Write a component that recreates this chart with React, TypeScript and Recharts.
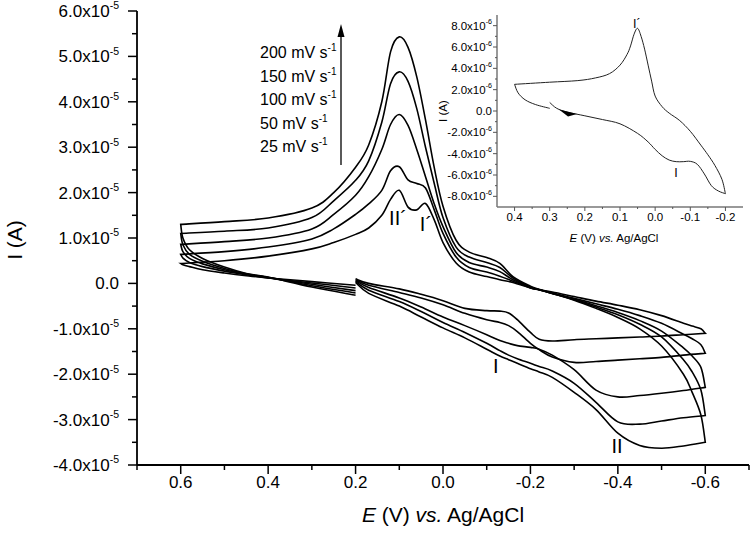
import React from "react";
import { LineChart, Line, XAxis, YAxis, ReferenceDot } from "recharts";

const FONT = "'Liberation Sans', Arial, Helvetica, sans-serif";

// potential (V vs. Ag/AgCl): 0.2 -> -0.6 (cathodic), -0.6 -> 0.6 (anodic), 0.6 -> 0.2
const potential = [
  0.2, 0.17, 0.1, 0.05, 0, -0.05, -0.1, -0.13, -0.15, -0.17,
  -0.2, -0.22, -0.25, -0.3, -0.35, -0.4, -0.45, -0.5, -0.55, -0.6,
  -0.6, -0.59, -0.57, -0.55, -0.5, -0.45, -0.4, -0.35, -0.3, -0.25,
  -0.22, -0.2, -0.16, -0.13, -0.1, -0.06, -0.03, 0, 0.02, 0.04,
  0.06, 0.08, 0.1, 0.12, 0.14, 0.17, 0.2, 0.25, 0.3, 0.4, 0.5, 0.6,
  0.6, 0.595, 0.58, 0.55, 0.5, 0.45, 0.4, 0.3, 0.2,
];

// currents, x10^-5 A
const i25 = [
  0.1, 0.0, -0.12, -0.24, -0.38, -0.55, -0.6, -0.61, -0.65, -0.8,
  -1.08, -1.23, -1.27, -1.24, -1.22, -1.2, -1.18, -1.16, -1.13, -1.1,
  -1.1, -1.0, -0.94, -0.88, -0.71, -0.58, -0.48, -0.39, -0.29, -0.19,
  -0.14, -0.1, 0.02, 0.08, 0.15, 0.25, 0.45, 0.9, 1.4, 1.76,
  1.62, 1.68, 2.05, 1.85, 1.5, 1.22, 1.08, 0.9, 0.76, 0.6, 0.5, 0.44,
  0.44, 0.41, 0.37, 0.3, 0.23, 0.17, 0.12, 0.04, -0.04,
];
const i50 = [
  0.08, -0.04, -0.2, -0.32, -0.47, -0.66, -0.8, -0.86, -0.93, -1.06,
  -1.32, -1.46, -1.62, -1.74, -1.72, -1.69, -1.66, -1.63, -1.58, -1.54,
  -1.54, -1.35, -1.22, -1.12, -0.88, -0.71, -0.57, -0.45, -0.33, -0.21,
  -0.14, -0.1, 0.05, 0.16, 0.25, 0.35, 0.58, 1.1, 1.62, 2.1,
  2.2, 2.28, 2.57, 2.48, 2.05, 1.75, 1.52, 1.2, 0.98, 0.8, 0.7, 0.64,
  0.64, 0.56, 0.46, 0.37, 0.27, 0.19, 0.12, 0.01, -0.1,
];
const i100 = [
  0.06, -0.09, -0.32, -0.52, -0.74, -0.93, -1.13, -1.26, -1.32, -1.37,
  -1.41, -1.45, -1.58, -1.9, -2.35, -2.5, -2.47, -2.42, -2.36, -2.29,
  -2.29, -1.85, -1.6, -1.42, -1.05, -0.82, -0.64, -0.49, -0.35, -0.22,
  -0.14, -0.09, 0.08, 0.26, 0.36, 0.46, 0.68, 1.25, 1.75, 2.35,
  2.95, 3.48, 3.72, 3.5, 2.95, 2.35, 1.94, 1.52, 1.2, 1.0, 0.92, 0.86,
  0.86, 0.7, 0.55, 0.43, 0.3, 0.2, 0.13, -0.02, -0.16,
];
const i150 = [
  0.04, -0.15, -0.4, -0.62, -0.86, -1.08, -1.32, -1.48, -1.58, -1.66,
  -1.76, -1.83, -1.93, -2.2, -2.62, -3.05, -3.1, -3.03, -2.96, -2.91,
  -2.91, -2.35, -1.95, -1.68, -1.18, -0.9, -0.69, -0.52, -0.36, -0.22,
  -0.14, -0.08, 0.12, 0.35, 0.46, 0.58, 0.8, 1.45, 2.2, 3.0,
  3.85, 4.45, 4.66, 4.4, 3.55, 2.7, 2.27, 1.82, 1.45, 1.22, 1.15, 1.1,
  1.1, 0.85, 0.64, 0.49, 0.33, 0.21, 0.13, -0.05, -0.21,
];
const i200 = [
  0.02, -0.22, -0.5, -0.74, -0.98, -1.2, -1.45, -1.6, -1.68, -1.76,
  -1.88, -1.95, -2.07, -2.4, -2.78, -3.3, -3.57, -3.63, -3.58, -3.5,
  -3.5, -2.9, -2.4, -2.0, -1.38, -1.0, -0.75, -0.55, -0.37, -0.22,
  -0.13, -0.06, 0.15, 0.44, 0.57, 0.69, 0.95, 1.7, 2.55, 3.6,
  4.55, 5.2, 5.43, 5.1, 4.0, 3.05, 2.56, 2.0, 1.66, 1.44, 1.36, 1.3,
  1.3, 1.0, 0.74, 0.55, 0.36, 0.22, 0.14, -0.08, -0.26,
];

const scanRates = ["200", "150", "100", "50", "25"];

// inset: potential (V) and current (x10^-6 A)
const insetPotential = [
  0.3, 0.28, 0.25, 0.2, 0.15, 0.1, 0.05, 0.02, 0, -0.02,
  -0.04, -0.06, -0.08, -0.1, -0.12, -0.14, -0.16, -0.18, -0.2,
  -0.2, -0.19, -0.17, -0.15, -0.13, -0.1, -0.07, -0.04, -0.02, 0,
  0.01, 0.02, 0.03, 0.04, 0.05, 0.06, 0.07, 0.08, 0.1, 0.13,
  0.17, 0.22, 0.3, 0.4,
  0.4, 0.39, 0.37, 0.34, 0.3,
];
const insetCurrent = [
  0.8, 0.25, -0.1, -0.45, -0.8, -1.2, -2.1, -2.9, -3.6, -4.2,
  -4.6, -4.75, -4.75, -4.72, -5.0, -5.9, -7.0, -7.5, -7.75,
  -7.75, -6.4, -5.1, -4.1, -3.2, -1.9, -0.9, -0.2, 0.4, 1.4,
  2.8, 4.3, 5.8, 7.0, 7.75, 7.2, 6.1, 5.3, 4.3, 3.5,
  3.1, 2.85, 2.7, 2.5,
  2.5, 1.7, 1.05, 0.6, 0.25,
];

const xTicks = [0.7, 0.6, 0.5, 0.4, 0.3, 0.2, 0.1, 0, -0.1, -0.2, -0.3, -0.4, -0.5, -0.6, -0.7];
const xMajor = [0.6, 0.4, 0.2, 0, -0.2, -0.4, -0.6];
const yTicks = [-4, -3.5, -3, -2.5, -2, -1.5, -1, -0.5, 0, 0.5, 1, 1.5, 2, 2.5, 3, 3.5, 4, 4.5, 5, 5.5, 6];
const insetXTicks = [0.4, 0.35, 0.3, 0.25, 0.2, 0.15, 0.1, 0.05, 0, -0.05, -0.1, -0.15, -0.2];
const insetXMajor = [0.4, 0.3, 0.2, 0.1, 0, -0.1, -0.2];
const insetYTicks = [-8, -7, -6, -5, -4, -3, -2, -1, 0, 1, 2, 3, 4, 5, 6, 7, 8];

const mainData = potential.map((E, k) => ({
  E, i25: i25[k], i50: i50[k], i100: i100[k], i150: i150[k], i200: i200[k],
}));
const insetData = insetPotential.map((E, k) => ({ E, I: insetCurrent[k] }));

// Catmull-Rom through the points; a repeated point gives a sharp corner
function smoothCurve(context: any) {
  let pts: number[][] = [];
  return {
    areaStart() {},
    areaEnd() {},
    lineStart() { pts = []; },
    point(x: number, y: number) { pts.push([+x, +y]); },
    lineEnd() {
      if (!pts.length) return;
      context.moveTo(pts[0][0], pts[0][1]);
      for (let k = 0; k < pts.length - 1; k++) {
        const p1 = pts[k];
        const p2 = pts[k + 1];
        if (p1[0] === p2[0] && p1[1] === p2[1]) continue;
        const p0 = k > 0 ? pts[k - 1] : p1;
        const p3 = k + 2 < pts.length ? pts[k + 2] : p2;
        context.bezierCurveTo(
          p1[0] + (p2[0] - p0[0]) / 6, p1[1] + (p2[1] - p0[1]) / 6,
          p2[0] - (p3[0] - p1[0]) / 6, p2[1] - (p3[1] - p1[1]) / 6,
          p2[0], p2[1],
        );
      }
    },
  };
}

const sciLabel = (v: number, exp: string, size: number) =>
  v === 0 ? "0.0" : (
    <>
      {`${v.toFixed(1)}x10`}
      <tspan dy={-size * 0.45} fontSize={size * 0.62}>{exp}</tspan>
    </>
  );

const MainXTick = (props: any) => {
  const { x, y, payload } = props;
  const v = payload.value;
  const major = xMajor.includes(v);
  return (
    <g>
      <line x1={x} x2={x} y1={y} y2={y + (major ? 9 : 5)} stroke="#000" strokeWidth={1.5} />
      {major && (
        <text x={x} y={y + 23} textAnchor="middle" fontSize={17} fontFamily={FONT} fill="#000">
          {v === 0 ? "0.0" : v.toFixed(1)}
        </text>
      )}
    </g>
  );
};

const MainYTick = (props: any) => {
  const { x, y, payload } = props;
  const v = payload.value;
  const major = Number.isInteger(v);
  return (
    <g>
      <line x1={x} x2={x - (major ? 9 : 5)} y1={y} y2={y} stroke="#000" strokeWidth={1.5} />
      {major && (
        <text x={x - 18} y={y + 6} textAnchor="end" fontSize={17} fontFamily={FONT} fill="#000">
          {sciLabel(v, "-5", 17)}
        </text>
      )}
    </g>
  );
};

const InsetXTick = (props: any) => {
  const { x, y, payload } = props;
  const v = payload.value;
  const major = insetXMajor.includes(v);
  return (
    <g>
      <line x1={x} x2={x} y1={y} y2={y + (major ? 4 : 2)} stroke="#555" strokeWidth={1} />
      {major && (
        <text x={x} y={y + 14} textAnchor="middle" fontSize={11.5} fontFamily={FONT} fill="#000">
          {v === 0 ? "0.0" : v.toFixed(1)}
        </text>
      )}
    </g>
  );
};

const InsetYTick = (props: any) => {
  const { x, y, payload } = props;
  const v = payload.value;
  const major = v % 2 === 0;
  return (
    <g>
      <line x1={x} x2={x - (major ? 4 : 2)} y1={y} y2={y} stroke="#555" strokeWidth={1} />
      {major && (
        <text x={x - 5} y={y + 4} textAnchor="end" fontSize={11.5} fontFamily={FONT} fill="#000">
          {sciLabel(v, "-6", 11.5)}
        </text>
      )}
    </g>
  );
};

const peakLabel = (text: string, size: number) => ({
  value: text, position: "center" as const, fontSize: size, fill: "#000", fontFamily: FONT,
});

export default function App() {
  const frame = { stroke: "#000", strokeWidth: 1.8 };
  const insetFrame = { stroke: "#777", strokeWidth: 1.5 };
  return (
    <div style={{ position: "absolute", left: 0, top: 0, width: 752, height: 536, background: "#fff" }}>
      <LineChart width={752} height={536} data={mainData} margin={{ top: 11, right: 3, bottom: 0, left: 0 }}>
        <XAxis dataKey="E" type="number" domain={[-0.7, 0.7]} reversed allowDataOverflow
          ticks={xTicks} interval={0} tickSize={0} tickMargin={0} tickLine={false}
          axisLine={frame} height={71} tick={MainXTick} />
        <XAxis xAxisId="top" orientation="top" type="number" domain={[-0.7, 0.7]} reversed
          height={0} tick={false} tickLine={false} axisLine={frame} />
        <YAxis type="number" domain={[-4, 6]} allowDataOverflow ticks={yTicks} interval={0}
          tickSize={0} tickMargin={0} tickLine={false} axisLine={frame} width={137} tick={MainYTick} />
        <YAxis yAxisId="right" orientation="right" type="number" domain={[-4, 6]}
          width={0} tick={false} tickLine={false} axisLine={frame} />
        {scanRates.map((r) => (
          <Line key={r} dataKey={`i${r}`} type={smoothCurve as any} stroke="#000" strokeWidth={1.6}
            dot={false} activeDot={false} isAnimationActive={false} />
        ))}
        <ReferenceDot x={0.103} y={1.45} r={0} fill="none" stroke="none" label={peakLabel("II\u00B4", 20)} />
        <ReferenceDot x={0.039} y={1.3} r={0} fill="none" stroke="none" label={peakLabel("I\u00B4", 20)} />
        <ReferenceDot x={-0.121} y={-1.81} r={0} fill="none" stroke="none" label={peakLabel("I", 20)} />
        <ReferenceDot x={-0.398} y={-3.59} r={0} fill="none" stroke="none" label={peakLabel("II", 20)} />
      </LineChart>

      <div style={{ position: "absolute", left: 420, top: 0 }}>
        <LineChart width={332} height={250} data={insetData} margin={{ top: 15, right: 9, bottom: 0, left: 0 }}>
          <XAxis dataKey="E" type="number" domain={[-0.25, 0.45]} reversed allowDataOverflow
            ticks={insetXTicks} interval={0} tickSize={0} tickMargin={0} tickLine={false}
            axisLine={insetFrame} height={43} tick={InsetXTick} />
          <XAxis xAxisId="top" orientation="top" type="number" domain={[-0.25, 0.45]} reversed
            height={0} tick={false} tickLine={false} axisLine={insetFrame} />
          <YAxis type="number" domain={[-9, 9]} allowDataOverflow ticks={insetYTicks} interval={0}
            tickSize={0} tickMargin={0} tickLine={false} axisLine={insetFrame} width={77} tick={InsetYTick} />
          <YAxis yAxisId="right" orientation="right" type="number" domain={[-9, 9]}
            width={0} tick={false} tickLine={false} axisLine={insetFrame} />
          <Line dataKey="I" type={smoothCurve as any} stroke="#222" strokeWidth={1}
            dot={false} activeDot={false} isAnimationActive={false} />
          <ReferenceDot x={0.052} y={8.2} r={0} fill="none" stroke="none" label={peakLabel("I\u00B4", 12.5)} />
          <ReferenceDot x={-0.059} y={-5.8} r={0} fill="none" stroke="none" label={peakLabel("I", 12.5)} />
        </LineChart>
      </div>

      <svg width={752} height={536} style={{ position: "absolute", left: 0, top: 0, pointerEvents: "none" }}
        fontFamily={FONT} fill="#000">
        {scanRates.map((r, k) => (
          <text key={r} x={260} y={58 + k * 23.5} fontSize={16}>
            {`${r} mV s`}
            <tspan dy={-7} fontSize={10}>-1</tspan>
          </text>
        ))}
        <line x1={341} y1={165} x2={341} y2={34} stroke="#000" strokeWidth={1.3} />
        <polygon points="341,24 337.5,37 344.5,37" fill="#000" />

        <text x={443} y={522} fontSize={21} textAnchor="middle">
          <tspan fontStyle="italic">E</tspan> (V) <tspan fontStyle="italic">vs.</tspan> Ag/AgCl
        </text>
        <text x={22} y={240} fontSize={21} textAnchor="middle" transform="rotate(-90, 22, 240)">I (A)</text>

        <text x={614} y={242} fontSize={11.5} textAnchor="middle">
          <tspan fontStyle="italic">E</tspan> (V) <tspan fontStyle="italic">vs.</tspan> Ag/AgCl
        </text>
        <text x={447} y={111} fontSize={11.5} textAnchor="middle" transform="rotate(-90, 447, 111)">I (A)</text>
        <polygon points="559,109.5 577,114 568,116.5" fill="#000" />
      </svg>
    </div>
  );
}
